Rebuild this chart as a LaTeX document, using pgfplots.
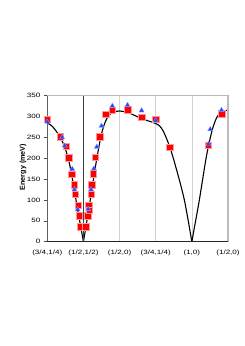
\documentclass[border=0pt]{standalone}
\usepackage{fontspec}
\setmainfont{Liberation Sans}
\newfontfamily\tickfont[FakeStretch=1.3]{Liberation Sans}
\usepackage{pgfplots}
\usepackage{pgfplotstable}
\pgfplotsset{compat=1.18}
\definecolor{sqred}{RGB}{255,0,0}
\definecolor{tribl}{RGB}{40,70,255}

\pgfplotstableread{
u y
0.00 293
0.36 252
0.52 229
0.59 201
0.67 162
0.74 137
0.77 114
0.86 87
0.88 62
0.92 36
1.07 36
1.12 62
1.15 87
1.16 75
1.21 114
1.23 137
1.27 163
1.33 202
1.45 251
1.62 305
1.80 315
2.22 316
2.61 298
3.00 293
3.39 226
4.45 231
4.82 307
}\redtab

\pgfplotstableread{
u y
0.00 287
0.41 250
0.48 230
0.69 174
0.75 125
0.84 77
1.13 78
1.21 125
1.29 175
1.37 227
1.50 277
1.80 325
2.22 327
2.61 314
3.00 290
4.46 234
4.51 269
4.82 315
}\bluetab

\pgfplotstableread{
u y
0.0 284
0.1 279
0.2 270
0.3 258
0.4 243
0.5 222
0.6 192
0.7 148
0.8 97
0.9 48
1.0 0
}\curveA

\pgfplotstableread{
u y
1.0 0
1.1 52
1.2 106
1.3 163
1.4 214
1.5 258
1.6 286
1.7 302
1.8 309
1.9 312
2.0 313
2.2 310
2.4 303
2.6 295
2.8 289
3.0 283
3.1 278
3.2 266
3.3 247
3.4 224
3.5 196
3.6 165
3.7 133
3.8 97
3.9 50
4.0 0
}\curveB

\pgfplotstableread{
u y
4.0 0
4.1 48
4.2 96
4.3 150
4.4 203
4.5 245
4.6 278
4.7 299
4.8 309
4.9 313
5.0 315
}\curveC

\begin{document}
\begin{tikzpicture}
\path[use as bounding box] (0,0) rectangle (245pt,346pt);
\begin{axis}[
  at={(47.3pt,104.3pt)}, anchor=south west,
  scale only axis, width=180.7pt, height=146.2pt,
  xmin=0, xmax=5, ymin=0, ymax=350,
  axis line style={draw=gray!55, line width=0.6pt},
  ytick={0,50,...,350},
  xtick={0,1,2,3,4,5},
  xticklabels={(3/4,1/4),(1/2,1/2),(1/2,0),(3/4,1/4),(1,0),(1/2,0)},
  ytick pos=left, xtick pos=bottom,
  tick align=outside,
  major tick length=3.5pt,
  y tick style={black!70, line width=0.5pt},
  x tick style={draw=none},
  xmajorgrids, major grid style={gray!35, line width=0.6pt},
  /pgf/number format/assume math mode=true,
  ticklabel style={font=\tickfont\fontsize{6.2}{7}\selectfont},
  xticklabel style={yshift=-1.5pt},
  yticklabel style={xshift=0pt},
  ylabel={Energy (meV)},
  every axis y label/.style={at={(axis description cs:-0.134,0.51)}, rotate=90, anchor=center, font=\bfseries\fontsize{7.2}{8}\selectfont},
  clip=false,
]
\addplot[black, line width=1.1pt, smooth, tension=0.5] table[x=u,y=y] {\curveA};
\addplot[black, line width=1.1pt, smooth, tension=0.5] table[x=u,y=y] {\curveB};
\addplot[black, line width=1.1pt, smooth, tension=0.5] table[x=u,y=y] {\curveC};
\addplot[only marks, mark=square*, mark size=3.3pt, mark options={fill=sqred, draw=red!40, line width=0.4pt}] table[x=u,y=y] {\redtab};
\addplot[only marks, mark=triangle*, mark size=3pt, mark options={fill=tribl, draw=tribl!50, line width=0.3pt}] table[x=u,y=y] {\bluetab};
\draw[gray!50, line width=1pt] (axis cs:5,0) -- (axis cs:5,350);
\draw[gray!75!black, line width=0.7pt] (axis cs:0,0) -- (axis cs:0,350);
\draw[black!75, line width=0.6pt] (axis cs:1,0) -- (axis cs:1,350);
\draw[black!85, line width=0.8pt] (axis cs:0,0) -- (axis cs:5,0);
\end{axis}
\end{tikzpicture}
\end{document}
